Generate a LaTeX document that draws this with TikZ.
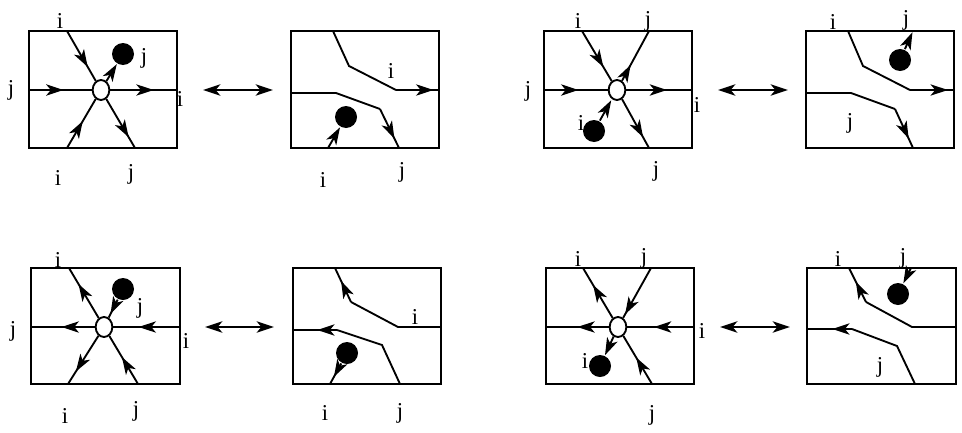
\documentclass[tikz,border=0pt]{standalone}
\usepackage{fontspec}
\setmainfont{Liberation Serif}
\usetikzlibrary{arrows.meta,shapes.geometric,decorations.markings}
\tikzset{
  >={Stealth[length=13pt,width=8.5pt,inset=3.5pt]},
  boxed/.style={line width=1.4pt},
  arrat/.style={postaction={decorate,decoration={markings,mark=at position #1 with {\arrow{>}}}}},
  ell/.style={ellipse,draw,fill=white,line width=1.4pt,minimum width=12.5pt,minimum height=15pt,inner sep=0pt},
  blob/.style={circle,fill=black,minimum size=16.5pt,inner sep=0pt},
  lab/.style={inner sep=0pt,font=\fontsize{17}{20}\selectfont},
  dbl/.style={line width=1.4pt,<->},
}
\begin{document}
\begin{tikzpicture}[x=0.75pt,y=-0.75pt,line width=1.4pt]
\useasboundingbox (0,0) rectangle (962,432);

% ---------- Panel 1 ----------
\draw[boxed] (29,31) rectangle (177,148);
\node[ell] (e1) at (101,90) {};
\node[blob] (d1) at (123,54) {};
\coordinate (p1t) at (67,31);
\coordinate (p1l) at (29,90);
\coordinate (p1r) at (177,90);
\coordinate (p1bl) at (67,148);
\coordinate (p1br) at (135,148);
\draw[arrat=0.72] (p1t) -- (e1);
\draw[arrat=0.55] (p1l) -- (e1);
\draw[arrat=0.65] (e1) -- (p1r);
\draw[arrat=0.55] (p1bl) -- (e1);
\draw[arrat=0.78] (e1) -- (p1br);
\draw[->] (e1) -- (d1);
\node[lab] (l1a) at (60,21) {i};
\node[lab] (l1b) at (144,58) {j};
\node[lab] (l1c) at (11,90) {j};
\node[lab] (l1d) at (180,99) {i};
\node[lab] (l1e) at (58,178) {i};
\node[lab] (l1f) at (131,174) {j};

% ---------- arrow 1-2 ----------
\coordinate (a12l) at (203,90);
\coordinate (a12r) at (273,90);
\draw[dbl] (a12l) -- (a12r);

% ---------- Panel 2 ----------
\draw[boxed] (291,31) rectangle (439,148);
\coordinate (q2a) at (333,31);
\coordinate (q2b) at (349,66);
\coordinate (q2c) at (396,90);
\coordinate (q2d) at (439,90);
\draw (q2a) -- (q2b) -- (q2c);
\draw[arrat=0.87] (q2c) -- (q2d);
\coordinate (r2a) at (291,93);
\coordinate (r2b) at (336,93);
\coordinate (r2c) at (380,109);
\coordinate (r2d) at (399,148);
\draw (r2a) -- (r2b) -- (r2c);
\draw[arrat=0.76] (r2c) -- (r2d);
\node[blob] (d2) at (346,117) {};
\coordinate (s2) at (328,148);
\draw[->] (s2) -- (d2);
\node[lab] (l2a) at (391,71) {i};
\node[lab] (l2b) at (323,180) {i};
\node[lab] (l2c) at (402,172) {j};

% ---------- Panel 3 ----------
\draw[boxed] (544,31) rectangle (692,148);
\node[ell] (e3) at (617,90) {};
\node[blob] (d3) at (594,131) {};
\coordinate (p3t) at (582,31);
\coordinate (p3tr) at (649,31);
\coordinate (p3l) at (544,90);
\coordinate (p3r) at (692,90);
\coordinate (p3br) at (649,148);
\draw[arrat=0.72] (p3t) -- (e3);
\draw[arrat=0.32] (e3) -- (p3tr);
\draw[arrat=0.54] (p3l) -- (e3);
\draw[arrat=0.62] (e3) -- (p3r);
\draw[arrat=0.78] (e3) -- (p3br);
\draw[->,shorten >=1pt] (d3) -- (e3);
\node[lab] (l3a) at (578,21) {i};
\node[lab] (l3b) at (648,21) {j};
\node[lab] (l3c) at (528,91) {j};
\node[lab] (l3d) at (697,105) {i};
\node[lab] (l3e) at (581,123) {i};
\node[lab] (l3f) at (656,171) {j};

% ---------- arrow 3-4 ----------
\coordinate (a34l) at (718,90);
\coordinate (a34r) at (788,90);
\draw[dbl] (a34l) -- (a34r);

% ---------- Panel 4 ----------
\draw[boxed] (806,31) rectangle (954,148);
\coordinate (q4a) at (848,31);
\coordinate (q4b) at (863,66);
\coordinate (q4c) at (910,90);
\coordinate (q4d) at (954,90);
\draw (q4a) -- (q4b) -- (q4c);
\draw[arrat=0.86] (q4c) -- (q4d);
\coordinate (r4a) at (806,93);
\coordinate (r4b) at (851,93);
\coordinate (r4c) at (895,109);
\coordinate (r4d) at (913,148);
\draw (r4a) -- (r4b) -- (r4c);
\draw[arrat=0.76] (r4c) -- (r4d);
\node[blob] (d4) at (900,60) {};
\coordinate (s4) at (913,31);
\draw[->,shorten >=1pt] (d4) -- (s4);
\node[lab] (l4a) at (833,22) {i};
\node[lab] (l4b) at (906,20) {j};
\node[lab] (l4c) at (850,123) {j};

% ---------- Panel 5 ----------
\draw[boxed] (31,268) rectangle (180,384);
\node[ell] (e5) at (104,327) {};
\node[blob] (d5) at (123,289) {};
\coordinate (p5t) at (69,268);
\coordinate (p5l) at (31,327);
\coordinate (p5r) at (180,327);
\coordinate (p5bl) at (68,384);
\coordinate (p5br) at (138,384);
\draw[arrat=0.68] (e5) -- (p5t);
\draw[arrat=0.52] (e5) -- (p5l);
\draw[arrat=0.62] (p5r) -- (e5);
\draw[arrat=0.74] (e5) -- (p5bl);
\draw[arrat=0.56] (p5br) -- (e5);
\draw[arrat=0.8] (d5) -- (e5);
\node[lab] (l5a) at (58,260) {i};
\node[lab] (l5b) at (140,308) {j};
\node[lab] (l5c) at (13,331) {j};
\node[lab] (l5d) at (186,341) {i};
\node[lab] (l5e) at (65,416) {i};
\node[lab] (l5f) at (136,411) {j};

% ---------- arrow 5-6 ----------
\coordinate (a56l) at (205,327);
\coordinate (a56r) at (274,327);
\draw[dbl] (a56l) -- (a56r);

% ---------- Panel 6 ----------
\draw[boxed] (293,268) rectangle (441,384);
\coordinate (q6a) at (441,327);
\coordinate (q6b) at (398,327);
\coordinate (q6c) at (351,302);
\coordinate (q6d) at (335,268);
\draw (q6a) -- (q6b) -- (q6c);
\draw[arrat=0.62] (q6c) -- (q6d);
\coordinate (r6a) at (400,384);
\coordinate (r6b) at (382,345);
\coordinate (r6c) at (337,330);
\coordinate (r6d) at (293,330);
\draw (r6a) -- (r6b) -- (r6c);
\draw[arrat=0.45] (r6c) -- (r6d);
\node[blob] (d6) at (347,353) {};
\coordinate (s6) at (330,384);
\draw[arrat=0.65] (d6) -- (s6);
\node[lab] (l6a) at (415,317) {i};
\node[lab] (l6b) at (325,413) {i};
\node[lab] (l6c) at (400,413) {j};

% ---------- Panel 7 ----------
\draw[boxed] (546,268) rectangle (694,384);
\node[ell] (e7) at (618,327) {};
\node[blob] (d7) at (600,366) {};
\coordinate (p7t) at (583,268);
\coordinate (p7tr) at (651,268);
\coordinate (p7l) at (546,327);
\coordinate (p7r) at (694,327);
\coordinate (p7br) at (652,384);
\draw[arrat=0.66] (e7) -- (p7t);
\draw[arrat=0.93] (p7tr) -- (e7);
\draw[arrat=0.5] (e7) -- (p7l);
\draw[arrat=0.6] (p7r) -- (e7);
\draw[arrat=0.55] (p7br) -- (e7);
\draw[->] (e7) -- (d7);
\node[lab] (l7a) at (578,259) {i};
\node[lab] (l7b) at (644,258) {j};
\node[lab] (l7c) at (702,331) {i};
\node[lab] (l7d) at (585,361) {i};
\node[lab] (l7e) at (652,415) {j};

% ---------- arrow 7-8 ----------
\coordinate (a78l) at (720,327);
\coordinate (a78r) at (790,327);
\draw[dbl] (a78l) -- (a78r);

% ---------- Panel 8 ----------
\draw[boxed] (807,268) rectangle (956,384);
\coordinate (q8a) at (956,327);
\coordinate (q8b) at (912,327);
\coordinate (q8c) at (866,302);
\coordinate (q8d) at (849,268);
\draw (q8a) -- (q8b) -- (q8c);
\draw[arrat=0.6] (q8c) -- (q8d);
\coordinate (r8a) at (915,384);
\coordinate (r8b) at (897,346);
\coordinate (r8c) at (852,329);
\coordinate (r8d) at (807,329);
\draw (r8a) -- (r8b) -- (r8c);
\draw[arrat=0.44] (r8c) -- (r8d);
\node[blob] (d8) at (898,294) {};
\coordinate (s8) at (911,268);
\draw[->] (s8) -- (d8);
\node[lab] (l8a) at (838,259) {i};
\node[lab] (l8b) at (903,258) {j};
\node[lab] (l8c) at (880,367) {j};
\end{tikzpicture}
\end{document}
